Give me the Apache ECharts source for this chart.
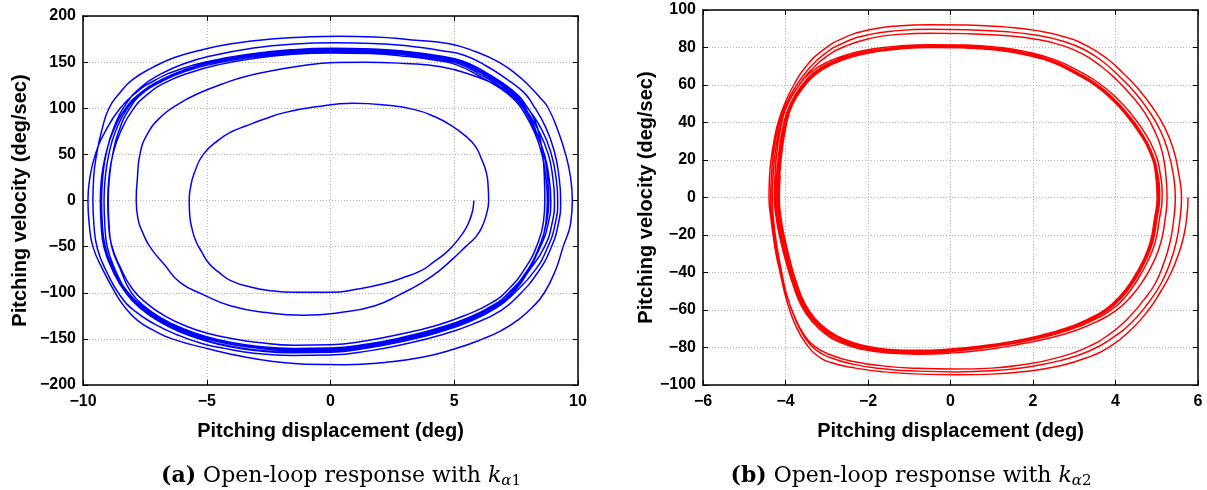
<!DOCTYPE html>
<html>
<head>
<meta charset="utf-8">
<script src="https://cdn.jsdelivr.net/npm/echarts@6/dist/echarts.min.js"></script>
<style>
  html, body { margin: 0; padding: 0; background: #fff; }
  #main { width: 1207px; height: 490px; }
</style>
</head>
<body>
<div id="main"></div>
<script>
// ---- (a) blue trajectory: half turns, in time order ----
var blueLow1 = [[5.79,0],[5.75,-10],[5.62,-21.6],[5.45,-31],[5.23,-39.7],[4.95,-49],[4.61,-57.8],[4.15,-67],[3.68,-75.8],[2.95,-83.5],[2.14,-90.3],[1.1,-96],[0,-99.5],[-1.3,-99.5],[-2.5,-97.5],[-3.35,-93],[-4.05,-86.6],[-4.5,-78],[-4.9,-68.6],[-5.2,-56],[-5.45,-43.3],[-5.6,-30],[-5.68,-18],[-5.71,0]];
var blueUp1 = [[-5.65,15],[-5.5,30],[-5.14,50],[-4.5,66],[-4.0,74.5],[-3.4,81],[-2.7,88],[-1.9,95],[-0.6,101.5],[0.9,105.4],[2.2,103.5],[3.4,98.5],[4.2,91],[4.9,81],[5.45,70],[5.85,59],[6.1,45],[6.3,30],[6.37,15],[6.39,0]];
var blueLow2 = [[6.3,-15],[6.1,-30],[5.85,-40],[5.46,-50],[4.95,-63],[4.4,-76],[3.7,-89],[2.8,-102],[1.8,-114],[0.4,-121.5],[-1.1,-124.5],[-2.6,-121.5],[-4.05,-114],[-5.1,-102.5],[-6.07,-89],[-6.7,-70],[-7.3,-50],[-7.6,-34],[-7.77,-21],[-7.85,0]];
var blueUp2 = [[-7.8,25],[-7.7,50],[-7.4,72],[-6.84,91],[-6.15,104.5],[-5.3,116.5],[-4.4,126],[-3.44,134.5],[-2.2,141.5],[-0.96,147],[0.2,149.5],[1.36,150],[3.0,148.5],[4.46,145],[5.7,136],[6.8,124],[7.6,110],[8.1,95],[8.4,75],[8.57,50],[8.64,25],[8.66,0]];
var blueLow3 = [[8.6,-24],[8.35,-48],[7.9,-72],[7.2,-96],[6.5,-111],[5.4,-125],[4.2,-136],[2.9,-144.5],[1.45,-152],[0,-156.5],[-1.45,-157],[-2.9,-154],[-4.1,-149],[-4.9,-144.5],[-5.85,-136],[-6.7,-125],[-7.4,-112],[-8.0,-96],[-8.5,-72],[-8.85,-48],[-8.97,-24],[-9.0,0]];
var blueUp3 = [[-8.95,25],[-8.8,49],[-8.5,73.5],[-8.0,98],[-7.4,115],[-6.7,127.5],[-5.75,138],[-4.55,147],[-3.1,154],[-1.55,158.5],[0,160],[1.6,159.3],[3.15,156],[4.25,152],[5.1,147],[6.0,135],[6.8,122.5],[7.4,110],[7.76,98],[8.25,73.5],[8.55,49],[8.7,24.5],[8.76,0]];
var blueLow4 = [[8.7,-25],[8.43,-50],[7.98,-75],[7.25,-99],[6.55,-114],[5.45,-129],[4.25,-140],[2.95,-149],[1.5,-157],[0,-161.5],[-1.5,-162],[-3.0,-159.5],[-4.2,-154.5],[-5.0,-149],[-6.0,-140],[-6.85,-129],[-7.6,-115],[-8.2,-99],[-8.75,-74.5],[-9.1,-49.5],[-9.22,-25],[-9.25,0]];
var blueUp4 = [[-9.2,26],[-9.05,52.5],[-8.75,79],[-8.25,105],[-7.65,123],[-6.9,136.5],[-5.95,148],[-4.7,157.5],[-3.2,165],[-1.6,169.5],[0.2,171],[1.7,170.3],[3.3,167],[4.45,162.5],[5.4,157.5],[6.35,145],[7.15,131],[7.8,117.5],[8.15,105],[8.7,79],[9.05,52.5],[9.23,26],[9.3,0]];
var blueLow5 = [[9.2,-26],[8.9,-52],[8.4,-77],[7.6,-103],[6.9,-119],[5.75,-134],[4.5,-145.5],[3.1,-155],[1.55,-163],[0,-167.5],[-1.55,-168],[-3.1,-165.5],[-4.35,-160],[-5.2,-155],[-6.2,-145.5],[-7.1,-134],[-7.9,-120],[-8.5,-103],[-9.05,-77],[-9.42,-52],[-9.56,-26],[-9.6,0]];
var blueUp5 = [[-9.57,25],[-9.45,50],[-9.25,75],[-8.95,100],[-8.5,117],[-8.0,131],[-7.2,144],[-6.3,155],[-5.1,164],[-4.0,170],[-2.4,175],[-0.8,177.5],[0.3,178],[1.8,177.3],[3.3,174],[4.8,170],[5.9,161],[6.8,150],[7.5,137],[8.0,125],[8.45,112],[8.8,100],[9.2,75],[9.5,50],[9.7,25],[9.77,0]];
var blueLow6 = [[9.7,-25],[9.4,-50],[9.1,-75],[8.64,-100],[8.15,-116],[7.55,-130],[6.9,-141],[6.16,-150],[5.0,-161],[3.7,-170],[2.2,-175.5],[0.6,-178],[-1.0,-177.5],[-2.3,-174.5],[-3.4,-170],[-4.9,-161],[-6.4,-150],[-7.2,-140],[-7.8,-130],[-8.3,-116],[-8.7,-100],[-9.2,-75],[-9.6,-50],[-9.75,-25],[-9.8,0]];
var blueUp6 = [[-9.72,25],[-9.5,50],[-9.1,75],[-8.5,100],[-7.85,117],[-7.05,131],[-6.05,142.5],[-4.8,151.5],[-3.3,158.5],[-1.6,163.3],[0.1,165],[1.7,164.3],[3.25,161],[4.35,157],[5.3,151.5],[6.2,140],[7.0,126.5],[7.6,113.5],[7.95,101],[8.55,76],[8.92,50.5],[9.11,25],[9.18,0]];
var blueLow7 = [[9.08,-25],[8.77,-51],[8.25,-76],[7.4,-101],[6.7,-116.5],[5.6,-131.5],[4.35,-143],[3.05,-152],[1.5,-160],[0,-164.5],[-1.5,-165],[-3.05,-162.5],[-4.25,-157.5],[-5.05,-152],[-6.05,-143],[-6.9,-131.5],[-7.65,-117.5],[-8.25,-101],[-8.8,-76],[-9.15,-51],[-9.27,-25],[-9.3,0]];
var blueUp7 = [[-9.25,25],[-9.08,50],[-8.78,75],[-8.27,100],[-7.66,117],[-6.9,130],[-5.95,141],[-4.7,150],[-3.22,157],[-1.6,161.5],[0,163],[1.6,162.3],[3.2,159],[4.3,155],[5.2,150],[6.1,138],[6.9,125],[7.5,112],[7.86,100],[8.42,75],[8.8,50],[8.98,25],[9.05,0]];
var blueLow8 = [[8.95,-25],[8.65,-50],[8.05,-75],[7.3,-100],[6.6,-115],[5.5,-130],[4.3,-141],[3.0,-150],[1.5,-158],[0,-162.5],[-1.5,-163],[-3.0,-160],[-4.2,-155],[-5.0,-150],[-6.0,-141],[-6.85,-130],[-7.6,-116],[-8.2,-100],[-8.7,-75],[-9.02,-50],[-9.12,-25],[-9.15,0]];
var blueUp8 = [[-9.1,25],[-8.96,49.5],[-8.7,74],[-8.23,99],[-7.62,116],[-6.86,128.5],[-5.92,139.5],[-4.68,148.5],[-3.2,155.5],[-1.6,160],[0,161.5],[1.6,160.8],[3.18,157.5],[4.27,153.5],[5.17,148.5],[6.06,136.5],[6.86,123.5],[7.45,111],[7.82,99],[8.3,74],[8.65,49.5],[8.83,24.5],[8.9,0]];
var blueLow9 = [[8.8,-24.5],[8.5,-49],[8.0,-74],[7.26,-98.5],[6.57,-113.5],[5.47,-128],[4.27,-139],[2.97,-148],[1.5,-155.5],[0,-160],[-1.5,-160.5],[-2.98,-158],[-4.17,-153],[-4.97,-148],[-5.95,-139],[-6.8,-128],[-7.53,-114.5],[-8.08,-98.5],[-8.5,-74],[-8.85,-49],[-8.95,-24.5],[-8.98,0]];
var blueUp9 = [[-8.93,25],[-8.8,50],[-8.55,75.5],[-8.1,100.5],[-7.54,117.5],[-6.8,131],[-5.87,142],[-4.65,151],[-3.18,158],[-1.6,162.5],[0,164],[1.6,163.3],[3.22,160],[4.32,156],[5.23,151],[6.13,139],[6.94,126],[7.54,113],[7.88,100.5],[8.3,75.5],[8.62,50],[8.77,25],[8.82,0]];
var blueLow10 = [[8.72,-25],[8.45,-50.5],[8.02,-75.5],[7.35,-100.5],[6.65,-116],[5.55,-131],[4.32,-142.5],[3.02,-151.5],[1.5,-159.5],[0,-164],[-1.5,-164.5],[-3.02,-162],[-4.22,-157],[-5.02,-151.5],[-6.02,-142.5],[-6.88,-131],[-7.63,-117],[-8.23,-100.5],[-8.78,-75.5],[-9.13,-50.5],[-9.25,-25],[-9.28,0]];

// ---- (b) red trajectory ----
var redLow1 = [[5.76,0],[5.73,-10],[5.66,-20],[5.53,-30],[5.35,-40],[5.1,-50],[4.8,-60],[4.4,-70],[3.9,-79],[3.3,-85.5],[2.6,-90],[1.8,-92.8],[1.0,-94.2],[0.2,-94.5],[-0.7,-94.2],[-1.6,-93],[-2.3,-91],[-2.9,-88],[-3.25,-84],[-3.5,-78],[-3.72,-70],[-3.9,-60],[-4.03,-50],[-4.13,-40],[-4.23,-30],[-4.3,-20],[-4.36,-10],[-4.4,0]];
var redUp1 = [[-4.39,10],[-4.35,20],[-4.28,30],[-4.18,40],[-4.02,50],[-3.8,60],[-3.5,70],[-3.1,78.5],[-2.6,85],[-2.0,89.3],[-1.3,91.5],[-0.5,92.2],[0.4,92],[1.3,91],[2.1,89],[2.8,85.5],[3.3,81],[3.8,74],[4.2,66],[4.55,58],[4.9,48],[5.2,37],[5.4,26],[5.53,13],[5.6,0]];
var redLow2 = [[5.56,-12],[5.47,-24],[5.32,-35],[5.1,-46],[4.8,-56],[4.42,-66],[3.95,-74.5],[3.35,-82],[2.65,-87],[1.85,-90.5],[1.0,-92.4],[0.1,-93],[-0.8,-92.6],[-1.65,-91.3],[-2.35,-89],[-2.9,-85.5],[-3.28,-81],[-3.55,-74],[-3.78,-64],[-3.97,-52],[-4.12,-40],[-4.23,-28],[-4.31,-15],[-4.36,0]];
var redUp2 = [[-4.33,15],[-4.25,30],[-4.14,40],[-3.98,50],[-3.76,59],[-3.46,68],[-3.06,76.5],[-2.56,82.8],[-1.96,87],[-1.28,89],[-0.5,89.7],[0.4,89.5],[1.3,88.5],[2.1,86.5],[2.75,83.2],[3.25,78.8],[3.72,72],[4.12,64],[4.47,56],[4.8,46.5],[5.08,36],[5.27,25],[5.4,12.5],[5.45,0]];
var redLow3 = [[5.41,-12],[5.32,-24],[5.17,-35],[4.96,-46],[4.67,-55],[4.3,-64.5],[3.85,-73],[3.27,-80.3],[2.6,-85.4],[1.82,-89],[1.0,-91],[0.1,-91.5],[-0.8,-91.1],[-1.65,-89.8],[-2.35,-87.5],[-2.9,-84],[-3.3,-79.3],[-3.57,-72.5],[-3.8,-62.5],[-3.98,-51],[-4.1,-39],[-4.2,-27],[-4.28,-14],[-4.32,0]];
var redUp3 = [[-4.29,15],[-4.21,30],[-4.1,40],[-3.94,50],[-3.72,58.5],[-3.42,67],[-3.02,75],[-2.52,81],[-1.92,85],[-1.25,87],[-0.5,87.6],[0.4,87.4],[1.3,86.4],[2.1,84.3],[2.72,81],[3.2,76.6],[3.65,70],[4.04,62.5],[4.38,54.5],[4.7,45.5],[4.96,35],[5.13,24.5],[5.22,12],[5.25,0]];
var redLow4 = [[5.2,-12],[5.1,-24],[4.93,-34],[4.68,-44],[4.37,-53],[4.0,-60.5],[3.52,-66.5],[2.98,-71.3],[2.35,-75.2],[1.62,-78.5],[0.85,-81.2],[0,-83],[-0.8,-83.6],[-1.52,-83],[-2.14,-81],[-2.65,-77.5],[-3.05,-72.5],[-3.36,-66],[-3.61,-58],[-3.81,-47],[-3.98,-35],[-4.12,-23],[-4.22,-11.5],[-4.27,0]];
var redUp4 = [[-4.23,20],[-4.09,40],[-3.94,50],[-3.69,59.5],[-3.38,66.8],[-2.98,72.3],[-2.47,76.4],[-1.86,79.3],[-1.24,80.8],[-0.52,81.5],[0.3,81.3],[1.12,80.2],[1.83,77.8],[2.54,73.4],[3.15,67],[3.61,60.8],[4.02,53.2],[4.38,44.6],[4.68,35.5],[4.93,25.3],[5.08,13.2],[5.13,0]];
var redLow5 = [[5.06,-12],[4.96,-24],[4.78,-34],[4.53,-44],[4.23,-53.2],[3.87,-60.3],[3.42,-65.9],[2.91,-70.4],[2.3,-74.3],[1.59,-77.6],[0.83,-80.2],[0,-82.2],[-0.8,-82.9],[-1.5,-82.4],[-2.11,-80.4],[-2.62,-76.9],[-3.03,-71.8],[-3.33,-65.6],[-3.59,-57.4],[-3.79,-46.4],[-3.96,-34.3],[-4.09,-22.3],[-4.19,-11.2],[-4.24,0]];
var redUp5 = [[-4.18,20],[-4.04,40],[-3.88,50],[-3.63,59.2],[-3.33,66.3],[-2.93,71.8],[-2.43,75.8],[-1.83,78.6],[-1.22,80.1],[-0.51,80.8],[0.3,80.6],[1.1,79.5],[1.8,77.1],[2.5,72.8],[3.1,66.3],[3.56,60.2],[3.96,52.7],[4.31,44.2],[4.61,35.2],[4.86,25.1],[5.02,13.1],[5.07,0]];
var redLow6 = [[5.0,-12],[4.9,-24],[4.72,-34],[4.47,-44],[4.17,-53],[3.82,-60],[3.37,-65.5],[2.87,-70],[2.26,-73.8],[1.56,-77],[0.81,-79.6],[0,-81.5],[-0.8,-82.2],[-1.5,-81.7],[-2.1,-79.7],[-2.61,-76.2],[-3.01,-71.2],[-3.31,-65.2],[-3.56,-57.2],[-3.76,-46.2],[-3.93,-34.2],[-4.06,-22.2],[-4.16,-11.1],[-4.21,0]];
var redUp6 = [[-4.15,20],[-4.01,40],[-3.86,50],[-3.61,59],[-3.31,66],[-2.91,71.5],[-2.41,75.5],[-1.81,78.3],[-1.2,79.8],[-0.5,80.5],[0.3,80.3],[1.1,79.2],[1.8,76.8],[2.5,72.5],[3.1,66],[3.55,60],[3.95,52.5],[4.3,44],[4.6,35],[4.85,25],[5.0,13],[5.05,0]];
var redLow7 = [[4.98,-12],[4.88,-24],[4.7,-34],[4.45,-44],[4.15,-53],[3.8,-60],[3.35,-65.5],[2.85,-70],[2.25,-73.8],[1.55,-77],[0.8,-79.5],[0,-81.3],[-0.8,-82],[-1.5,-81.5],[-2.1,-79.5],[-2.6,-76],[-3.0,-71],[-3.3,-65],[-3.55,-57],[-3.75,-46],[-3.92,-34],[-4.05,-22],[-4.15,-11],[-4.19,0]];
var redUp7 = [[-4.13,20],[-3.99,40],[-3.84,50],[-3.59,58.8],[-3.29,65.8],[-2.89,71.2],[-2.39,75.2],[-1.8,78],[-1.19,79.5],[-0.5,80.2],[0.3,80],[1.1,78.9],[1.79,76.5],[2.49,72.2],[3.08,65.7],[3.53,59.7],[3.93,52.3],[4.28,43.8],[4.58,34.8],[4.83,24.9],[4.98,12.9],[5.03,0]];
var redLow8 = [[4.96,-12],[4.86,-24],[4.68,-34],[4.43,-44],[4.13,-52.8],[3.78,-59.8],[3.33,-65.3],[2.83,-69.8],[2.23,-73.6],[1.54,-76.8],[0.79,-79.3],[0,-81],[-0.8,-81.7],[-1.5,-81.2],[-2.09,-79.2],[-2.59,-75.8],[-2.99,-70.8],[-3.29,-64.8],[-3.54,-56.8],[-3.74,-45.8],[-3.9,-33.8],[-4.03,-21.8],[-4.12,-10.9],[-4.16,0]];
var redUp8 = [[-4.11,20],[-3.97,40],[-3.82,50],[-3.57,58.6],[-3.27,65.6],[-2.87,71],[-2.38,75],[-1.79,77.8],[-1.18,79.3],[-0.5,80],[0.3,79.8],[1.1,78.7],[1.78,76.3],[2.48,72],[3.07,65.5],[3.52,59.5],[3.92,52.1],[4.27,43.6],[4.57,34.6],[4.82,24.8],[4.97,12.9],[5.01,0]];
var redLow9 = [[4.94,-12],[4.84,-24],[4.66,-34],[4.41,-43.8],[4.11,-52.6],[3.76,-59.6],[3.31,-65.1],[2.81,-69.6],[2.21,-73.4],[1.53,-76.6],[0.78,-79.1],[0,-80.8],[-0.8,-81.5],[-1.5,-81],[-2.08,-79],[-2.58,-75.6],[-2.98,-70.6],[-3.28,-64.6],[-3.53,-56.6],[-3.73,-45.6],[-3.89,-33.6],[-4.02,-21.6],[-4.11,-10.8],[-4.15,0],[-4.13,12]];

var blueTrack = [].concat(blueLow1, blueUp1, blueLow2, blueUp2, blueLow3, blueUp3, blueLow4, blueUp4,
    blueLow5, blueUp5, blueLow6, blueUp6, blueLow7, blueUp7, blueLow8, blueUp8, blueLow9, blueUp9, blueLow10);
var redTrack = [].concat(redLow1, redUp1, redLow2, redUp2, redLow3, redUp3, redLow4, redUp4,
    redLow5, redUp5, redLow6, redUp6, redLow7, redUp7, redLow8, redUp8, redLow9);

var tickFont = 'Liberation Sans';
var gridLine = { show: true, lineStyle: { color: '#b4b4b4', type: [1, 2], width: 1 } };

function minus(v) {
    return String(v).replace('-', '\u2212');
}

function mainX(gi, min, max, step, name) {
    return {
        gridIndex: gi, type: 'value', min: min, max: max, interval: step,
        name: name, nameLocation: 'middle', nameGap: 36,
        nameTextStyle: { fontFamily: tickFont, fontWeight: 'bold', fontSize: 20, color: '#000' },
        axisLine: { show: true, onZero: false, lineStyle: { color: '#000', width: 1.5 } },
        axisTick: { show: true, inside: true, length: 5, lineStyle: { color: '#000' } },
        axisLabel: { fontFamily: tickFont, fontWeight: 'bold', fontSize: 16, color: '#000', margin: 9, formatter: minus },
        splitLine: gridLine
    };
}
function mainY(gi, min, max, step, gap) {
    return {
        gridIndex: gi, type: 'value', min: min, max: max, interval: step,
        name: 'Pitching velocity (deg/sec)', nameLocation: 'middle', nameGap: gap, nameRotate: 90,
        nameTextStyle: { fontFamily: tickFont, fontWeight: 'bold', fontSize: 20, color: '#000' },
        axisLine: { show: true, onZero: false, lineStyle: { color: '#000', width: 1.5 } },
        axisTick: { show: true, inside: true, length: 5, lineStyle: { color: '#000' } },
        axisLabel: { fontFamily: tickFont, fontWeight: 'bold', fontSize: 16, color: '#000', margin: 7, formatter: minus },
        splitLine: gridLine
    };
}
// box axes (top / right), ticks only
function boxAxis(gi, min, max, step, pos) {
    return {
        gridIndex: gi, type: 'value', min: min, max: max, interval: step, position: pos,
        axisLine: { show: true, onZero: false, lineStyle: { color: '#000', width: 1.5 } },
        axisTick: { show: true, inside: true, length: 5, lineStyle: { color: '#000' } },
        axisLabel: { show: false },
        splitLine: { show: false }
    };
}

var chart = echarts.init(document.getElementById('main'));
var serif = 'DejaVu Serif';
var capRich = {
    b: { fontFamily: serif, fontWeight: 'bold', fontSize: 22, color: '#000' },
    t: { fontFamily: serif, fontWeight: 'normal', fontSize: 22, color: '#000' },
    k: { fontFamily: serif, fontWeight: 'normal', fontStyle: 'italic', fontSize: 22, color: '#000' },
    s: { fontFamily: serif, fontWeight: 'normal', fontStyle: 'italic', fontSize: 15, color: '#000', padding: [11, 0, 0, 0] },
    n: { fontFamily: serif, fontWeight: 'normal', fontSize: 15, color: '#000', padding: [11, 0, 0, 0] }
};
var option = {
    animation: false,
    backgroundColor: '#fff',
    title: [
        { text: '{b|(a)}{t| Open-loop response with }{k|k}{s|α}{n|1}', left: 336, top: 458, textAlign: 'center',
          textStyle: { fontWeight: 'normal', rich: capRich } },
        { text: '{b|(b)}{t| Open-loop response with }{k|k}{s|α}{n|2}', left: 906, top: 458, textAlign: 'center',
          textStyle: { fontWeight: 'normal', rich: capRich } }
    ],
    grid: [
        { left: 83, top: 16, width: 495, height: 369, show: false },
        { left: 703, top: 10, width: 495, height: 375, show: false }
    ],
    xAxis: [
        mainX(0, -10, 10, 5, 'Pitching displacement (deg)'),
        mainX(1, -6, 6, 2, 'Pitching displacement (deg)'),
        boxAxis(0, -10, 10, 5, 'top'),
        boxAxis(1, -6, 6, 2, 'top')
    ],
    yAxis: [
        mainY(0, -200, 200, 50, 53),
        mainY(1, -100, 100, 20, 46),
        boxAxis(0, -200, 200, 50, 'right'),
        boxAxis(1, -100, 100, 20, 'right')
    ],
    series: [
        {
            type: 'line', xAxisIndex: 0, yAxisIndex: 0, data: blueTrack,
            smooth: 0.5, symbol: 'none', lineStyle: { color: '#0000ff', width: 1.5 }
        },
        {
            type: 'line', xAxisIndex: 1, yAxisIndex: 1, data: redTrack,
            smooth: 0.5, symbol: 'none', lineStyle: { color: '#ff0000', width: 1.5 }
        }
    ]
};
chart.setOption(option);
</script>
</body>
</html>
